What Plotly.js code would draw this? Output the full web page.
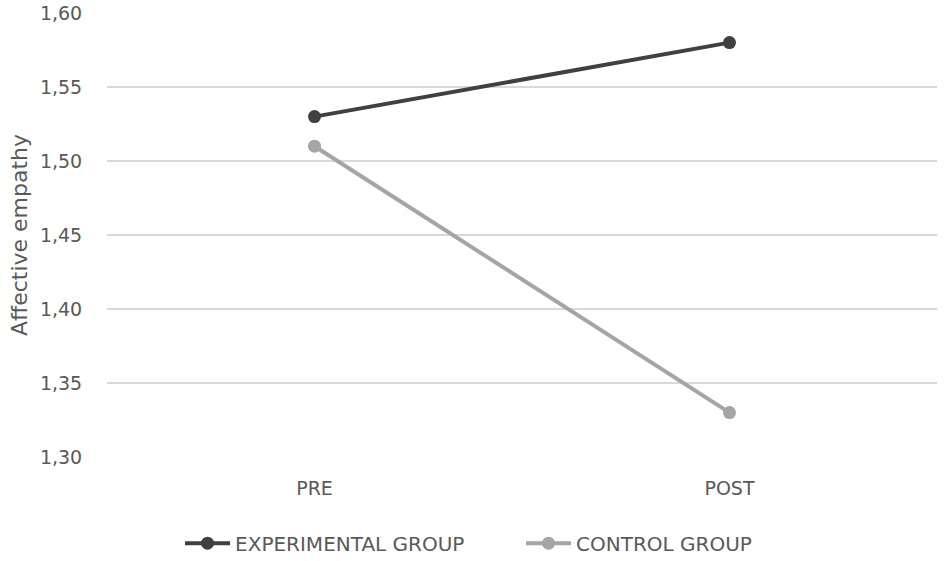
<!DOCTYPE html>
<html>
<head>
<meta charset="utf-8">
<script src="https://cdn.plot.ly/plotly-3.0.1.min.js"></script>
<style>
  body { margin: 0; background: #fff; }
  #myDiv { width: 950px; height: 561px; }
</style>
</head>
<body>
<div id="myDiv"></div>
<script>
const moments = ["PRE", "POST"]
const experimental = [1.53, 1.58]
const control = [1.51, 1.33]
const yTicks = [1.30, 1.35, 1.40, 1.45, 1.50, 1.55, 1.60]

const font = "'DejaVu Sans', 'Open Sans', sans-serif"
const textColor = "#595959"

const trace1 = {
  x: moments,
  y: experimental,
  mode: "lines+markers",
  type: "scatter",
  name: "EXPERIMENTAL GROUP",
  line: { color: "#404040", width: 4 },
  marker: { color: "#404040", size: 13 },
}
const trace2 = {
  x: moments,
  y: control,
  mode: "lines+markers",
  type: "scatter",
  name: "CONTROL GROUP",
  line: { color: "#a5a5a5", width: 4 },
  marker: { color: "#a5a5a5", size: 13 },
}
const data = [trace1, trace2]

const layout = {
  width: 950,
  height: 561,
  margin: { l: 107, r: 13, t: 13, b: 104, autoexpand: false },
  paper_bgcolor: "#fff",
  plot_bgcolor: "#fff",
  separators: ",.",
  font: { family: font, color: textColor, size: 19 },
  showlegend: true,
  legend: {
    orientation: "h",
    x: 0.088,
    xanchor: "left",
    y: -0.194,
    yanchor: "middle",
    font: { family: font, color: textColor, size: 20 },
    itemwidth: 45,
    entrywidth: 281,
    entrywidthmode: "pixels",
  },
  xaxis: {
    type: "category",
    range: [-0.5, 1.5],
    showgrid: false,
    showline: false,
    zeroline: false,
    ticks: "outside",
    ticklen: 14,
    tickcolor: "rgba(0,0,0,0)",
    tickfont: { family: font, color: textColor, size: 19 },
  },
  yaxis: {
    range: [1.30, 1.60],
    tickvals: yTicks,
    tickformat: ".2f",
    showgrid: true,
    gridcolor: "#d9d9d9",
    gridwidth: 1.5,
    zeroline: false,
    showline: false,
    ticks: "outside",
    ticklen: 20,
    tickcolor: "rgba(0,0,0,0)",
    tickfont: { family: font, color: textColor, size: 19 },
    title: {
      text: "Affective empathy",
      font: { family: font, color: textColor, size: 22 },
      standoff: 6,
    },
  },
}

Plotly.newPlot("myDiv", data, layout, { displayModeBar: false })
</script>
</body>
</html>
